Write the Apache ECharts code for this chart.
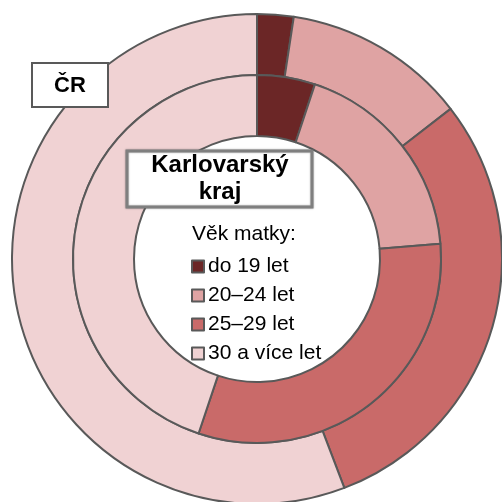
<!DOCTYPE html>
<html>
<head>
<meta charset="utf-8">
<script src="https://cdn.jsdelivr.net/npm/echarts@6/dist/echarts.min.js"></script>
<style>
  html, body { margin: 0; padding: 0; background: #fff; }
  #chart { width: 502px; height: 502px; }
</style>
</head>
<body>
<div id="chart"></div>
<script>
// vek matky - kategorie a podily (%)
var categories = ['do 19 let', '20–24 let', '25–29 let', '30 a více let'];
var colors = ['#6b2626', '#dfa3a3', '#c96a69', '#f0d2d3'];
var valuesCR = [2.4, 12.1, 29.7, 55.8];
var valuesKV = [5.1, 18.6, 31.5, 44.9];

(function(){
    function toData(values){
        return values.map(function(v, i){
            return { name: categories[i], value: v, itemStyle: { color: colors[i] } };
        });
    }

    function ring(name, values, radius){
        return {
            name: name,
            type: 'pie',
            center: [257, 259],
            radius: radius,
            startAngle: 90,
            clockwise: true,
            avoidLabelOverlap: false,
            label: { show: false },
            labelLine: { show: false },
            emphasis: { disabled: true },
            itemStyle: { borderColor: '#595959', borderWidth: 2 },
            data: toData(values)
        };
    }

    var font = 'Liberation Sans, Arial, sans-serif';
    var chart = echarts.init(document.getElementById('chart'));
    var option = {
        animation: false,
        backgroundColor: '#fff',
        textStyle: { fontFamily: font },
        legend: {
            orient: 'vertical',
            left: 186,
            top: 251,
            selectedMode: false,
            icon: 'rect',
            itemWidth: 12,
            itemHeight: 12,
            itemGap: 8,
            textStyle: { fontSize: 21, color: '#000', lineHeight: 20, padding: [0, 0, 0, -1] },
            data: categories
        },
        series: [
            ring('ČR', valuesCR, [184, 245]),
            ring('Karlovarský kraj', valuesKV, [123, 184])
        ],
        graphic: [
            {
                type: 'text', left: 192, top: 224, z: 10,
                style: { text: 'Věk matky:', fontSize: 21, fill: '#000', fontFamily: font }
            },
            {
                type: 'rect', z: 10,
                shape: { x: 32, y: 63, width: 76, height: 44 },
                style: { fill: '#fff', stroke: '#595959', lineWidth: 2 }
            },
            {
                type: 'text', z: 11,
                style: { text: 'ČR', x: 70, y: 86, align: 'center', verticalAlign: 'middle',
                         fontSize: 22, fontWeight: 'bold', fill: '#000', fontFamily: font }
            },
            {
                type: 'rect', z: 10,
                shape: { x: 127, y: 151, width: 185, height: 56 },
                style: { fill: '#fff', stroke: '#7f7f7f', lineWidth: 3,
                         shadowColor: 'rgba(0,0,0,0.35)', shadowBlur: 2 }
            },
            {
                type: 'text', z: 11,
                style: { text: 'Karlovarský\nkraj', x: 220, y: 179, align: 'center', verticalAlign: 'middle',
                         lineHeight: 27, fontSize: 24, fontWeight: 'bold', fill: '#000', fontFamily: font }
            }
        ]
    };
    chart.setOption(option);
})();
</script>
</body>
</html>
